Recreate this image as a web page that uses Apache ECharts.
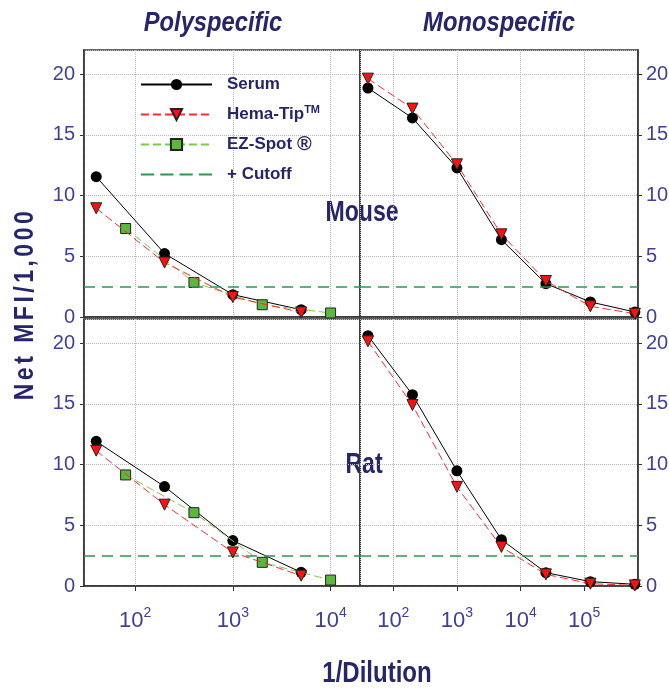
<!DOCTYPE html>
<html><head><meta charset="utf-8">
<script src="https://cdn.jsdelivr.net/npm/echarts@6/dist/echarts.min.js"></script>
<style>html,body{margin:0;padding:0;background:#fff}#c{width:669px;height:690px}</style>
</head><body><div id="c"></div>
<script>
// ---- data ----
const polyDilutions = [40, 200, 1000, 5000];
const ezDilutions = [80, 400, 2000, 10000];
const monoDilutions = [40, 200, 1000, 5000, 25000, 125000, 625000];
const mousePolySerum = [11.56, 5.23, 1.84, 0.60];
const mousePolyHema = [8.96, 4.49, 1.64, 0.38];
const mousePolyEZ = [7.29, 2.85, 1.01, 0.33];
const mouseMonoSerum = [18.87, 16.40, 12.28, 6.37, 2.75, 1.24, 0.41];
const mouseMonoHema = [19.64, 17.17, 12.58, 6.81, 2.97, 0.88, 0.27];
const ratPolySerum = [11.92, 8.19, 3.74, 1.13];
const ratPolyHema = [11.15, 6.70, 2.77, 0.85];
const ratPolyEZ = [9.15, 6.04, 1.95, 0.49];
const ratMonoSerum = [20.63, 15.76, 9.49, 3.82, 1.10, 0.36, 0.14];
const ratMonoHema = [20.16, 14.91, 8.17, 3.22, 0.96, 0.19, 0.05];
const cutoff = 2.5;
const legendNames = ['Serum', 'Hema-Tip', 'EZ-Spot', '+ Cutoff'];
const panelTitles = ['Polyspecific', 'Monospecific'];
const rowTitles = ['Mouse', 'Rat'];
const yTitle = 'Net MFI/1,000';
const xTitle = '1/Dilution';

// ---- style ----
const NAVY = '#25256a';
const TICK = '#40409a';
const CUT = '#2e9650';
const FONT = "'Liberation Sans Narrow','Arial Narrow','Liberation Sans',Arial,sans-serif";
const chart = echarts.init(document.getElementById('c'), null, {renderer: 'canvas'});

const gridBoxes = [
  {left: 84, top: 50, width: 276, height: 267},
  {left: 360, top: 50, width: 278, height: 267},
  {left: 84, top: 319, width: 276, height: 267},
  {left: 360, top: 319, width: 278, height: 267}
];
const grids = gridBoxes.map(g => Object.assign({}, g, {show: true, borderColor: '#333', borderWidth: 1.5, containLabel: false, outerBoundsMode: 'none'}));

function xAx(i, max, showLabels) {
  return {
    type: 'log', logBase: 10, gridIndex: i, min: 30, max: max,
    axisLine: {show: true, lineStyle: {color: '#333', width: 1.5}},
    axisTick: {show: showLabels, length: 5, lineStyle: {color: '#333'}},
    axisLabel: {
      show: showLabels, showMinLabel: false, showMaxLabel: false, margin: 20,
      formatter: v => '{b|10}{s|' + Math.round(Math.log10(v)) + '}',
      rich: {
        b: {fontSize: 22, color: TICK, fontFamily: FONT, lineHeight: 26, verticalAlign: 'bottom'},
        s: {fontSize: 14, color: TICK, fontFamily: FONT, lineHeight: 26, verticalAlign: 'top', padding: [0, 0, 8, 0]}
      }
    },
    splitLine: {show: true, lineStyle: {color: '#b8b8b8', type: 'dotted', width: 1}}
  };
}
function yAx(i, pos) {
  return {
    type: 'value', gridIndex: i, position: pos, min: 0, max: 22, interval: 5,
    axisLine: {show: true, lineStyle: {color: '#333', width: 1.5}},
    axisTick: {show: true, length: 4, lineStyle: {color: '#333'}},
    axisLabel: {showMaxLabel: false, color: TICK, fontSize: 20, fontFamily: FONT, margin: pos === 'left' ? 9 : 8},
    splitLine: {show: true, lineStyle: {color: '#b8b8b8', type: 'dotted', width: 1}}
  };
}
const pairs = (xs, ys) => xs.map((x, k) => [x, ys[k]]);
function serum(i, xs, ys) {
  return {name: 'Serum', type: 'line', xAxisIndex: i, yAxisIndex: i, data: pairs(xs, ys),
    symbol: 'circle', symbolSize: 11, itemStyle: {color: '#000'}, lineStyle: {color: '#000', width: 1}, z: 3};
}
function hema(i, xs, ys) {
  return {name: 'Hema-Tip', type: 'line', xAxisIndex: i, yAxisIndex: i, data: pairs(xs, ys),
    symbol: 'triangle', symbolRotate: 180, symbolSize: 11,
    itemStyle: {color: '#ff1010', borderColor: '#222', borderWidth: 1},
    lineStyle: {color: '#ff2a2a', width: 1, type: [8, 4]}, z: 5};
}
function ez(i, xs, ys) {
  return {name: 'EZ-Spot', type: 'line', xAxisIndex: i, yAxisIndex: i, data: pairs(xs, ys),
    symbol: 'rect', symbolSize: 10,
    itemStyle: {color: '#5cb83c', borderColor: '#222', borderWidth: 1},
    lineStyle: {color: '#7acc4c', width: 1, type: [8, 4]}, z: 4};
}
function cut(i) {
  const ls = {color: CUT, width: 1.5, type: [11, 7]};
  return {name: '+ Cutoff', type: 'line', xAxisIndex: i, yAxisIndex: i, data: [], symbol: 'none',
    itemStyle: {color: CUT}, lineStyle: ls, z: 2,
    markLine: {silent: true, symbol: 'none', label: {show: false}, lineStyle: ls, data: [{yAxis: cutoff}]}};
}

const txt = (x, y, text, font, opts) => Object.assign({type: 'text', x: x, y: y, silent: true,
  style: {text: text, fill: NAVY, font: font, align: 'center', verticalAlign: 'middle'}}, opts || {});

// y-title with letter spacing via rich tokens
const yTitleRich = yTitle.split('').map(c => '{a|' + c + '}').join('');

const option = {
  animation: false,
  backgroundColor: '#fff',
  grid: grids,
  xAxis: [xAx(0, 20000, false), xAx(1, 700000, false), xAx(2, 20000, true), xAx(3, 700000, true)],
  yAxis: [yAx(0, 'left'), yAx(1, 'right'), yAx(2, 'left'), yAx(3, 'right')],
  legend: {
    data: [legendNames[0], legendNames[1], legendNames[2],
      {name: legendNames[3], icon: 'path://M0,0h13v2h-13z M19,0h13v2h-13z M38,0h13v2h-13z M57,0h13v2h-13z', itemStyle: {color: CUT}}],
    orient: 'vertical', left: 135, top: 71, itemWidth: 71, itemHeight: 14, itemGap: 11.5,
    selectedMode: false,
    textStyle: {color: NAVY, fontFamily: FONT, fontWeight: 'bold', fontSize: 17,
      rich: {
        g: {width: 10, lineHeight: 20},
        t: {color: NAVY, fontFamily: FONT, fontWeight: 'bold', fontSize: 17, lineHeight: 20},
        s: {color: NAVY, fontFamily: FONT, fontWeight: 'bold', fontSize: 11, lineHeight: 20, verticalAlign: 'top', padding: [0, 0, 6, 0]},
        r: {color: NAVY, fontFamily: FONT, fontSize: 20, lineHeight: 20}
      }},
    formatter: n => n === 'Hema-Tip' ? '{g|}{t|Hema-Tip}{s|TM}' : n === 'EZ-Spot' ? '{g|}{t|EZ-Spot }{r|®}' : '{g|}{t|' + n + '}'
  },
  graphic: [
    txt(213, 24, panelTitles[0], "italic bold 27px " + FONT, {scaleX: 0.88}),
    txt(499, 24, panelTitles[1], "italic bold 27px " + FONT, {scaleX: 0.88}),
    txt(362, 213, rowTitles[0], "bold 30px " + FONT, {scaleX: 0.77, z: -1}),
    txt(364, 465, rowTitles[1], "bold 30px " + FONT, {scaleX: 0.77, z: -1}),
    {type: 'text', x: 25, y: 304, rotation: Math.PI / 2, scaleY: 1.2, silent: true,
      style: {text: yTitleRich, align: 'center', verticalAlign: 'middle',
        rich: {a: {fill: NAVY, font: "bold 23px " + FONT, padding: [0, 3.5, 0, 0]}}}},
    txt(377, 674, xTitle, "bold 30px " + FONT, {scaleX: 0.8})
  ],
  series: [
    cut(0), serum(0, polyDilutions, mousePolySerum), ez(0, ezDilutions, mousePolyEZ), hema(0, polyDilutions, mousePolyHema),
    cut(1), serum(1, monoDilutions, mouseMonoSerum), hema(1, monoDilutions, mouseMonoHema),
    cut(2), serum(2, polyDilutions, ratPolySerum), ez(2, ezDilutions, ratPolyEZ), hema(2, polyDilutions, ratPolyHema),
    cut(3), serum(3, monoDilutions, ratMonoSerum), hema(3, monoDilutions, ratMonoHema)
  ]
};
chart.setOption(option);
</script></body></html>
